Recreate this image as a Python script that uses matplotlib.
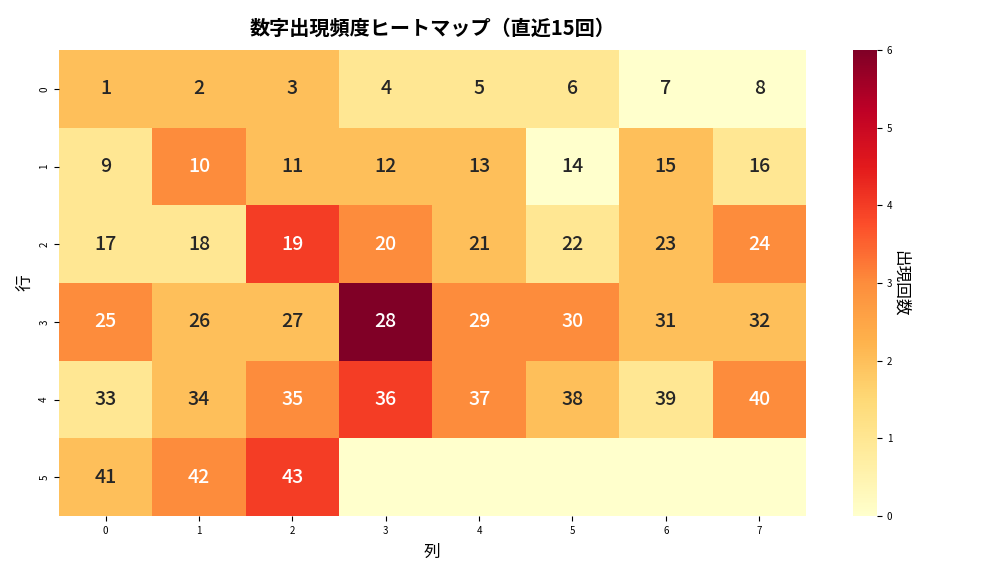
import numpy as np
import matplotlib
matplotlib.use("Agg")
import matplotlib.pyplot as plt
import seaborn as sns

plt.rcParams['font.family'] = ['Noto Sans CJK JP', 'DejaVu Sans']

# counts for numbers 1..43 (last 15 draws), laid out 6 rows x 8 cols
counts = [2, 2, 2, 1, 1, 1, 0, 0,
          1, 3, 2, 2, 2, 0, 2, 1,
          1, 1, 4, 3, 2, 1, 2, 3,
          3, 2, 2, 6, 3, 3, 2, 2,
          1, 2, 3, 4, 3, 2, 1, 3,
          2, 3, 4]
n_rows, n_cols = 6, 8
title = '数字出現頻度ヒートマップ（直近15回）'

grid = np.zeros(n_rows * n_cols)
grid[:len(counts)] = counts
grid = grid.reshape(n_rows, n_cols)

labels = np.array([str(i + 1) if i < len(counts) else '' for i in range(n_rows * n_cols)])
labels = labels.reshape(n_rows, n_cols)

fig = plt.figure(figsize=(10.08, 5.76), dpi=100)
ax = fig.add_axes([0.0585, 0.104, 0.741, 0.809])
cax = fig.add_axes([0.846, 0.104, 0.024, 0.809])

sns.heatmap(grid, annot=labels, fmt='', cmap='YlOrRd', vmin=0, vmax=6,
            ax=ax, cbar_ax=cax, annot_kws={'size': 14, 'weight': 'medium'},
            cbar_kws={'label': '出現回数'})

ax.set_title(title, fontsize=14.5, fontweight='bold', pad=11)
ax.set_xlabel('列', fontsize=12, labelpad=6)
ax.set_ylabel('行', fontsize=12)
ax.tick_params(labelsize=7)
cax.tick_params(labelsize=7)
cax.yaxis.label.set_size(12)
cax.yaxis.label.set_rotation(270)
cax.yaxis.labelpad = 12

fig.savefig('out.png', dpi=100)
